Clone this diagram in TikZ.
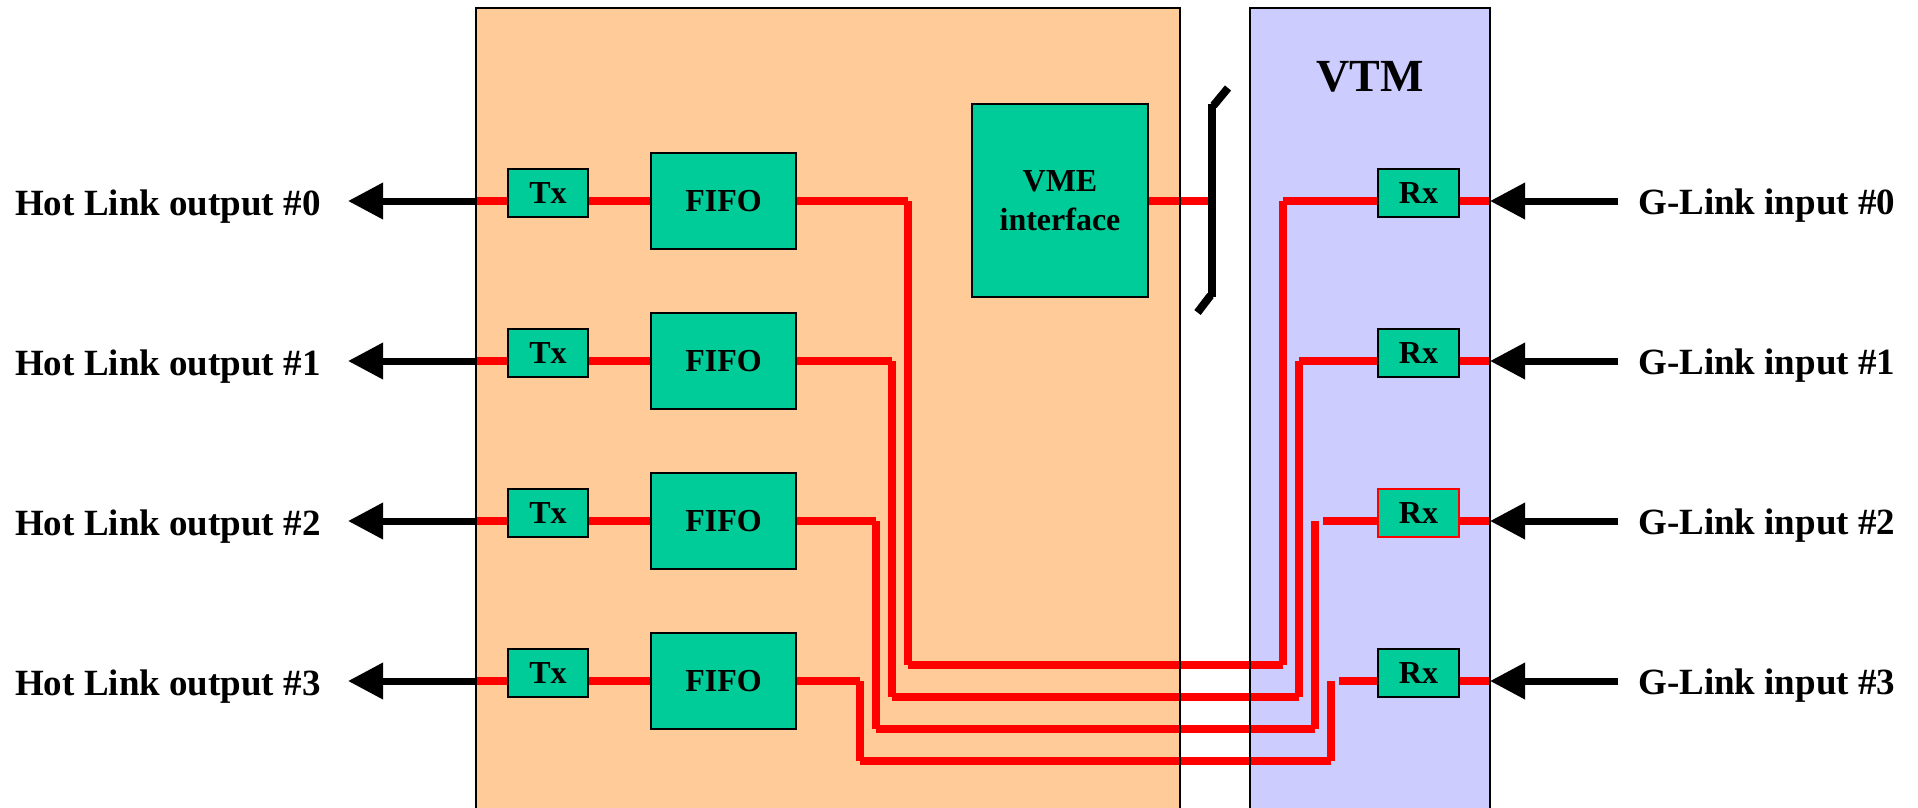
\documentclass[tikz,border=0pt]{standalone}
\usepackage{fontspec}
\setmainfont{Liberation Serif}
\usetikzlibrary{arrows.meta}
\pgfdeclarelayer{bg}
\pgfdeclarelayer{wires}
\pgfdeclarelayer{frames}
\pgfsetlayers{bg,wires,frames,main}
\definecolor{orangebg}{RGB}{255,204,153}
\definecolor{vtmbg}{RGB}{204,204,255}
\definecolor{chip}{RGB}{0,204,153}
\definecolor{wirered}{RGB}{255,0,0}
\tikzset{
  panel/.style={rectangle, inner sep=0pt, outer sep=0pt, minimum height=900pt, anchor=north west},
  chipbox/.style={rectangle, draw=black, line width=2.2pt, fill=chip, inner sep=0pt, align=center,
    font=\fontsize{32}{38.5}\selectfont\bfseries},
  smallbox/.style={chipbox, minimum width=80pt, minimum height=48pt},
  fifobox/.style={chipbox, minimum width=145pt, minimum height=96pt},
  wire/.style={draw=wirered, line width=7.5pt, line cap=butt},
  blackarrow/.style={draw=black, line width=7pt, -{Triangle[length=35pt,width=35pt]}},
  bracketline/.style={draw=black, line width=8pt, line cap=butt},
  frameline/.style={draw=black, line width=2.5pt},
  lbl/.style={inner sep=0pt, font=\fontsize{37}{44}\selectfont\bfseries},
}
\begin{document}
\begin{tikzpicture}[x=1pt,y=-1pt]
\useasboundingbox (0,0) rectangle (1918,807);
\clip (0,0) rectangle (1918,807);

% rows
\coordinate (r0) at (0,201);
\coordinate (r1) at (0,361);
\coordinate (r2) at (0,521);
\coordinate (r3) at (0,681);

% panels
\begin{pgfonlayer}{bg}
\fill[white] (0,0) rectangle (1918,807);
\node[panel, fill=orangebg, minimum width=704pt] (main) at (476,8) {};
\node[panel, fill=vtmbg, minimum width=240pt] (vtm) at (1250,8) {};
\end{pgfonlayer}
\begin{pgfonlayer}{frames}
\draw[frameline] (main.south west) -- (main.north west) -- (main.north east) -- (main.south east);
\draw[frameline] (vtm.south west) -- (vtm.north west) -- (vtm.north east) -- (vtm.south east);
\end{pgfonlayer}

\node[lbl, font=\fontsize{46}{55}\selectfont\bfseries, anchor=base] (vtmtitle) at (1370,91) {VTM};

% VME interface
\node[chipbox, minimum width=176pt, minimum height=193pt] (vme) at (1060,200.5) {VME\\interface};
\coordinate (b1) at (1212,104);
\coordinate (b2) at (1212,297);
\coordinate (bt) at (1228,88);
\coordinate (bb) at (1197.5,312.5);
\begin{pgfonlayer}{wires}
\draw[wire] (vme.east |- r0) -- (b1 |- r0);
\end{pgfonlayer}
\draw[bracketline] (b1) -- (b2);
\draw[bracketline] ([shift={(1.5pt,-1.5pt)}]b1) -- (bt);
\draw[bracketline] ([shift={(-1.5pt,1.5pt)}]b2) -- (bb);

% chips
\foreach \i in {0,1,2,3}{
  \pgfmathsetmacro\ry{201+160*\i}
  \node[smallbox] (tx\i) at (548,\ry-8) {Tx};
  \node[fifobox] (f\i) at (723.5,\ry) {FIFO};
}
\node[smallbox, minimum width=81pt] (rx0) at (1418.5,193) {Rx};
\node[smallbox, minimum width=81pt] (rx1) at (1418.5,353) {Rx};
\node[smallbox, minimum width=81pt, draw=wirered] (rx2) at (1418.5,513) {Rx};
\node[smallbox, minimum width=81pt] (rx3) at (1418.5,673) {Rx};

% labels
\node[lbl, anchor=base west] (hl0) at (15,215) {Hot Link output \#0};
\node[lbl, anchor=base west] (hl1) at (15,375) {Hot Link output \#1};
\node[lbl, anchor=base west] (hl2) at (15,535) {Hot Link output \#2};
\node[lbl, anchor=base west] (hl3) at (15,695) {Hot Link output \#3};
\node[lbl, anchor=base west] (gl0) at (1638,214) {G-Link input \#0};
\node[lbl, anchor=base west] (gl1) at (1638,374) {G-Link input \#1};
\node[lbl, anchor=base west] (gl2) at (1638,534) {G-Link input \#2};
\node[lbl, anchor=base west] (gl3) at (1638,694) {G-Link input \#3};

% wiring
\begin{pgfonlayer}{wires}
\foreach \i/\vx/\hy/\ux/\gx in {0/908/665/1283/1283, 1/892/697/1299/1299, 2/876/729/1315/1323, 3/860/761/1331/1339}{
  \pgfmathsetmacro\ry{201+160*\i}
  \coordinate (ta\i) at (348,\ry);
  \coordinate (gb\i) at (1618,\ry);
  \coordinate (ca\i) at (\vx,\ry);
  \coordinate (cb\i) at (\vx,\hy);
  \coordinate (cc\i) at (\ux,\hy);
  \coordinate (cd\i) at (\ux,\ry);
  \coordinate (ce\i) at (\gx,\ry);
  \draw[blackarrow] (main.west |- r\i) -- (ta\i);
  \draw[blackarrow] (gb\i) -- (vtm.east |- r\i);
  \draw[wire] (main.west |- r\i) -- (tx\i.west |- r\i);
  \draw[wire] (tx\i.east |- r\i) -- (f\i.west);
  \draw[wire] (f\i.east) -- (ca\i);
  \draw[wire] (ca\i) -- (cb\i);
  \draw[wire] (cb\i) -- (cc\i);
  \draw[wire] (cc\i) -- (cd\i);
  \draw[wire] (ce\i) -- (rx\i.west |- r\i);
  \draw[wire] (rx\i.east |- r\i) -- (vtm.east |- r\i);
}
\end{pgfonlayer}
\end{tikzpicture}
\end{document}
